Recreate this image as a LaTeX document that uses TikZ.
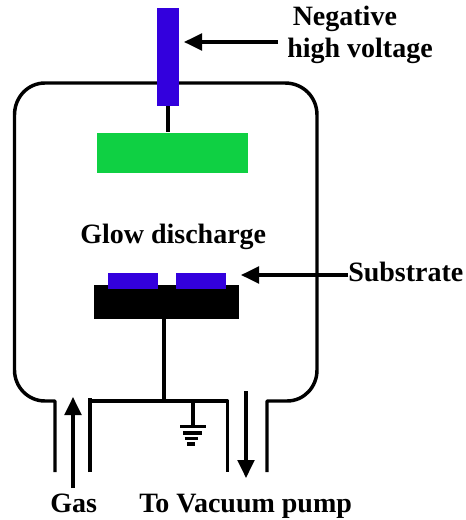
\documentclass[tikz,border=0pt]{standalone}
\usepackage{fontspec}
\setmainfont{Liberation Serif}
\usetikzlibrary{arrows.meta}
\definecolor{rodblue}{HTML}{3300DD}
\definecolor{glowgreen}{HTML}{0FD043}
\tikzset{
  wall/.style={line width=2.6pt,black},
  wire/.style={line width=2.4pt,black},
  pointer/.style={line width=2.5pt,black,-{Triangle[length=13.5pt,width=12.5pt]}},
  lbl/.style={font=\bfseries\fontsize{21pt}{24pt}\selectfont,inner sep=0pt,text=black},
}
\begin{document}
\begin{tikzpicture}[x=0.75pt,y=-0.75pt]
\useasboundingbox (0,0) rectangle (465,520);
% chamber
\draw[wall,line join=round] (55,472) -- (55,401) -- (45,401)
  .. controls (28,401) and (14.5,387) .. (14.5,370) -- (14.5,115)
  .. controls (14.5,97) and (28,83) .. (45,83) -- (285,83)
  .. controls (303,83) and (317,97) .. (317,115) -- (317,370)
  .. controls (317,387) and (304,401) .. (287,401) -- (267,401) -- (267,472);
\draw[wall,line join=round] (90,472) -- (90,398);
\draw[wall,line join=round] (92,401) -- (227.5,401) -- (227.5,472);
% electrode
\coordinate (stemTop) at (168,106);
\coordinate (stemBot) at (168,132);
\draw[wire] (stemTop) -- (stemBot);
\node[fill=rodblue,inner sep=0pt,minimum width=16.9pt,minimum height=73.5pt] (rod) at (168,57) {};
\node[fill=glowgreen,inner sep=0pt,minimum width=113.2pt,minimum height=30pt] (target) at (172.5,153) {};
% substrate holder
\node[fill=black,inner sep=0pt,minimum width=108.7pt,minimum height=25.5pt] (holder) at (166.5,302) {};
\node[fill=rodblue,inner sep=0pt,minimum width=37.1pt,minimum height=12pt] (subA) at (133.2,281) {};
\node[fill=rodblue,inner sep=0pt,minimum width=37.1pt,minimum height=12pt] (subB) at (200.8,281) {};
\coordinate (junction) at (164,401);
\draw[wire] (164,319) -- (junction);
% ground
\coordinate (gndTop) at (193,401);
\coordinate (gndBot) at (193,426);
\draw[wire] (gndTop) -- (gndBot);
\draw[line width=2.4pt] (180,426.5) -- (206,426.5);
\draw[line width=2.4pt] (183,433) -- (202,433);
\draw[line width=2.4pt] (184.5,438.5) -- (198,438.5);
\draw[line width=2.6pt] (187,444) -- (194.5,444);
% labels
\node[lbl,anchor=base west] (neg) at (292.5,26) {Negative};
\node[lbl,anchor=base west] (high) at (287,58) {high voltage};
\node[lbl,anchor=base west] (glow) at (80,243) {Glow discharge};
\node[lbl,anchor=base west] (subs) at (348,281.5) {Substrate};
\node[lbl,anchor=base west] (gas) at (50,512.5) {Gas};
\node[lbl,anchor=base west] (vac) at (139,512.5) {To Vacuum pump};
% arrows
\coordinate (hvTail) at (278,42);
\coordinate (hvTip) at (184,42);
\coordinate (sTip) at (241,275);
\coordinate (gasTail) at (73,488);
\coordinate (gasTip) at (73,397);
\coordinate (vacTail) at (246,391);
\coordinate (vacTip) at (246,478);
\draw[pointer] (hvTail) -- (hvTip);
\draw[pointer] (subs.west |- sTip) -- (sTip);
\draw[pointer] (gasTail) -- (gasTip);
\draw[pointer] (vacTail) -- (vacTip);
\end{tikzpicture}
\end{document}
